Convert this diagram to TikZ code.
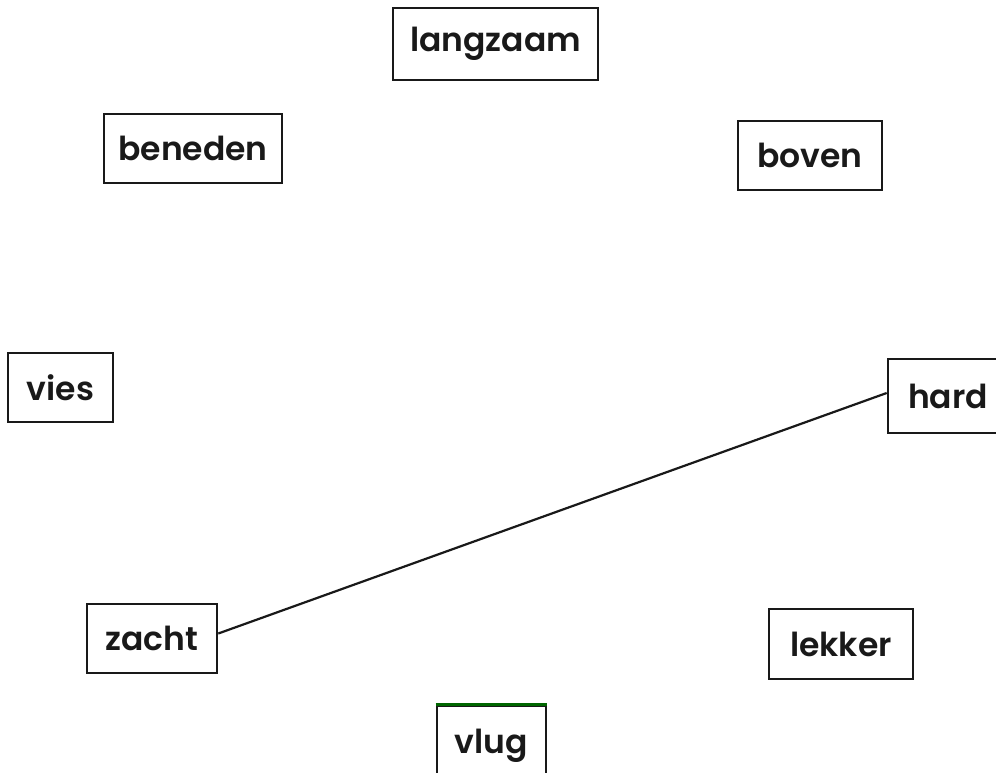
\documentclass[tikz,border=0pt]{standalone}
\usepackage{fontspec}
\setmainfont{Poppins}[UprightFont=* SemiBold]
\begin{document}
\begin{tikzpicture}[x=1pt,y=-1pt,
  wordbox/.style={draw=black!90, line width=2.6pt, rectangle, inner sep=0pt,
    font=\fontsize{33}{36}\selectfont, text=black!90},
  link/.style={draw=black!90, line width=2.2pt}]
\useasboundingbox (0,0) rectangle (996,773);
\clip (0,0) rectangle (996,773);
\node[wordbox, minimum width=205pt, minimum height=72pt] (langzaam) at (495.5,44) {langzaam};
\node[wordbox, minimum width=178pt, minimum height=69pt] (beneden) at (193,148.5) {beneden};
\node[wordbox, minimum width=144pt, minimum height=69pt] (boven) at (810,155.5) {boven};
\node[wordbox, minimum width=105pt, minimum height=69pt] (vies) at (60.5,387.5) {vies};
\node[wordbox, minimum width=120pt, minimum height=74pt] (hard) at (948,396) {hard};
\node[wordbox, minimum width=130pt, minimum height=69pt] (zacht) at (152,638.5) {zacht};
\node[wordbox, minimum width=144pt, minimum height=70pt] (lekker) at (841,644) {lekker};
\node[wordbox, minimum width=109pt, minimum height=80pt] (vlug) at (491.5,746) {vlug};
\draw[green!40!black, line width=2.6pt] (vlug.north west) -- (vlug.north east);
\draw[link] ([yshift=5pt]zacht.east) -- ([yshift=3pt]hard.west);
\end{tikzpicture}
\end{document}
